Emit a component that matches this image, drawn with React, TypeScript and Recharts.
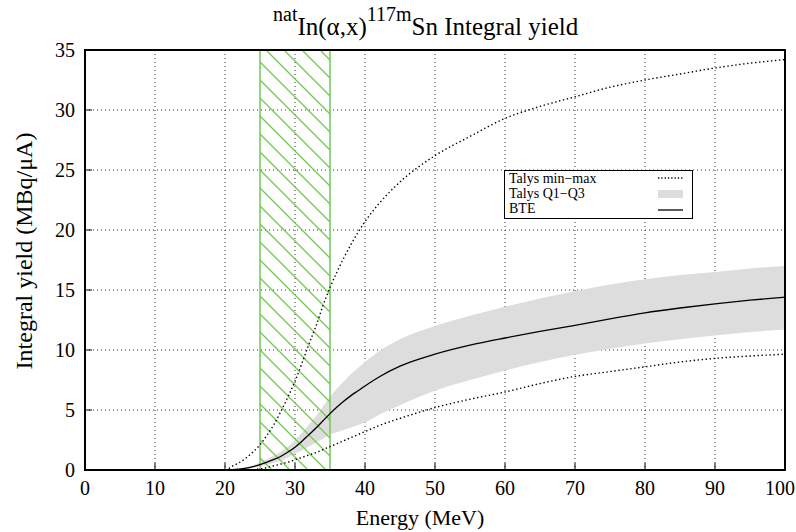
import { ComposedChart, Area, Line, XAxis, YAxis, CartesianGrid, ReferenceArea, Legend } from 'recharts';

const FONT = '"Liberation Serif", "Times New Roman", serif';

// energy grid (MeV) shared by all curves
const energy = [0, 20, 21, 22, 23, 24, 25, 26, 27, 28, 29, 30, 31, 32, 33, 34, 35, 36, 37, 38, 39, 40, 42, 45, 50, 55, 60, 65, 70, 75, 80, 85, 90, 95, 100];
const talysMax = [0, 0, 0.3, 0.6, 1.0, 1.5, 2.1, 2.9, 3.8, 4.9, 6.1, 7.4, 8.9, 10.5, 12.0, 13.7, 15.2, 16.5, 17.7, 18.8, 19.8, 20.7, 22.2, 24.0, 26.2, 27.8, 29.3, 30.3, 31.1, 31.9, 32.5, 33.0, 33.5, 33.9, 34.2];
const talysMin = [0, 0, 0, 0, 0, 0.02, 0.1, 0.2, 0.35, 0.5, 0.65, 0.85, 1.05, 1.25, 1.45, 1.7, 1.95, 2.2, 2.45, 2.7, 2.95, 3.2, 3.7, 4.3, 5.2, 5.9, 6.5, 7.2, 7.8, 8.2, 8.6, 9.0, 9.3, 9.5, 9.65];
const talysQ1 = [0, 0, 0.01, 0.04, 0.1, 0.18, 0.3, 0.45, 0.6, 0.8, 1.05, 1.35, 1.65, 1.95, 2.3, 2.6, 2.95, 3.15, 3.35, 3.55, 3.75, 3.95, 4.6, 5.4, 6.6, 7.5, 8.3, 9.0, 9.6, 10.1, 10.55, 10.9, 11.2, 11.5, 11.7];
const talysQ3 = [0, 0, 0.03, 0.1, 0.22, 0.4, 0.62, 0.9, 1.2, 1.55, 1.95, 2.5, 3.1, 3.8, 4.5, 5.3, 6.1, 6.8, 7.4, 8.0, 8.5, 9.0, 9.9, 10.9, 12.0, 12.85, 13.6, 14.3, 14.9, 15.45, 15.9, 16.25, 16.5, 16.8, 17.0];
const bte = [0, 0, 0.02, 0.07, 0.15, 0.28, 0.45, 0.65, 0.88, 1.15, 1.5, 1.9, 2.4, 2.95, 3.5, 4.1, 4.7, 5.25, 5.75, 6.2, 6.6, 7.0, 7.75, 8.65, 9.65, 10.4, 11.0, 11.55, 12.05, 12.6, 13.1, 13.5, 13.85, 14.15, 14.4];

const xTicks = [0, 10, 20, 30, 40, 50, 60, 70, 80, 90, 100];
const yTicks = [0, 5, 10, 15, 20, 25, 30, 35];
const beamWindow = [25, 35];
const legendNames = ['Talys min\u2212max', 'Talys Q1\u2212Q3', 'BTE'];

const data = energy.map((e, i) => ({
  e,
  max: talysMax[i],
  min: talysMin[i],
  band: [talysQ1[i], talysQ3[i]],
  bte: bte[i],
}));

const GREEN = '#72c755';
const tickStyle = { fontSize: 20, fill: '#000', fontFamily: FONT };

// bottom tick label; the last one is pulled in a little so it stays on the page
function XTick({ x, y, payload }: any) {
  const shift = payload.value === 100 ? -5 : 0;
  return (
    <text x={x + shift} y={y} dy="0.71em" textAnchor="middle" fontSize={20} fill="#000" fontFamily={FONT}>
      {payload.value}
    </text>
  );
}

function LegendBox() {
  const row = (top: number) => ({ position: 'absolute' as const, left: 4, top, lineHeight: '14px', whiteSpace: 'nowrap' as const });
  return (
    <div
      style={{
        position: 'relative',
        width: 189,
        height: 49,
        boxSizing: 'border-box',
        border: '1px solid #000',
        background: '#fff',
        fontFamily: FONT,
        fontSize: 14,
        color: '#000',
      }}
    >
      <div style={row(1)}>{legendNames[0]}</div>
      <div style={row(16)}>{legendNames[1]}</div>
      <div style={row(31)}>{legendNames[2]}</div>
      <svg width={189} height={49} style={{ position: 'absolute', left: -1, top: -1 }}>
        <line x1={154} x2={179} y1={8} y2={8} stroke="#000" strokeWidth={1.3} strokeDasharray="1.3 2" />
        <rect x={154} y={20} width={25} height={8} fill="#dddddd" />
        <line x1={154} x2={179} y1={40} y2={40} stroke="#000" strokeWidth={1.3} />
      </svg>
    </div>
  );
}

export default function App() {
  return (
    <div style={{ position: 'absolute', left: 0, top: 0, width: 796, height: 532, background: '#fff', fontFamily: FONT }}>
      <div style={{ position: 'absolute', left: 273, top: 14, whiteSpace: 'nowrap', fontSize: 25, lineHeight: '25px', color: '#000' }}>
        <span style={{ fontSize: 20, position: 'relative', top: -14 }}>nat</span>In(&alpha;,x)
        <span style={{ fontSize: 20, position: 'relative', top: -14 }}>117m</span>Sn Integral yield
      </div>
      <ComposedChart width={796} height={532} data={data} margin={{ top: 50, right: 11, bottom: 0, left: 0 }}>
        <defs>
          <pattern id="hatch" patternUnits="userSpaceOnUse" width={18} height={18}>
            <path d="M0,0 L18,18 M-4.5,13.5 L4.5,22.5 M13.5,-4.5 L22.5,4.5" stroke={GREEN} strokeWidth={1.3} />
          </pattern>
        </defs>
        <CartesianGrid stroke="#333" strokeDasharray="1 3" />
        <XAxis
          dataKey="e"
          type="number"
          domain={[0, 100]}
          ticks={xTicks}
          interval={0}
          height={62}
          axisLine={false}
          tickSize={-7}
          tickMargin={18}
          tickLine={{ stroke: '#000' }}
          tick={<XTick />}
        />
        <XAxis xAxisId="top" orientation="top" dataKey="e" type="number" domain={[0, 100]} ticks={xTicks} interval={0} height={0} axisLine={false} tickSize={-7} tickLine={{ stroke: '#000' }} tick={false} />
        <YAxis
          type="number"
          domain={[0, 35]}
          ticks={yTicks}
          interval={0}
          width={85}
          axisLine={false}
          tickSize={-7}
          tickMargin={17}
          tickLine={{ stroke: '#000' }}
          tick={tickStyle}
        />
        <YAxis yAxisId="right" orientation="right" type="number" domain={[0, 35]} ticks={yTicks} interval={0} width={0} axisLine={false} tickSize={-7} tickLine={{ stroke: '#000' }} tick={false} />
        <Area dataKey="band" type="monotone" stroke="none" fill="#dddddd" fillOpacity={1} isAnimationActive={false} />
        <ReferenceArea x1={beamWindow[0]} x2={beamWindow[1]} y1={0} y2={35} fill="url(#hatch)" fillOpacity={1} stroke={GREEN} strokeWidth={1.5} />
        <Line dataKey="max" type="monotone" stroke="#000" strokeWidth={1.4} strokeDasharray="1.4 2.6" dot={false} isAnimationActive={false} />
        <Line dataKey="min" type="monotone" stroke="#000" strokeWidth={1.4} strokeDasharray="1.4 2.6" dot={false} isAnimationActive={false} />
        <Line dataKey="bte" type="monotone" stroke="#000" strokeWidth={1.3} dot={false} isAnimationActive={false} />
        <ReferenceArea x1={0} x2={100} y1={0} y2={35} fill="none" fillOpacity={0} stroke="#000" strokeWidth={2} />
        <Legend
          layout="horizontal"
          verticalAlign="middle"
          align="center"
          content={() => <LegendBox />}
          wrapperStyle={{ left: 504, top: 170, width: 189, height: 49 }}
        />
      </ComposedChart>
      <div style={{ position: 'absolute', left: 0, width: 840, top: 507, textAlign: 'center', fontSize: 22, lineHeight: '22px', color: '#000' }}>
        Energy (MeV)
      </div>
      <div
        style={{
          position: 'absolute',
          left: 24 - 150,
          top: 251 - 13,
          width: 300,
          height: 26,
          lineHeight: '26px',
          textAlign: 'center',
          fontSize: 24,
          color: '#000',
          transform: 'rotate(-90deg)',
        }}
      >
        Integral yield (MBq/&mu;A)
      </div>
    </div>
  );
}
